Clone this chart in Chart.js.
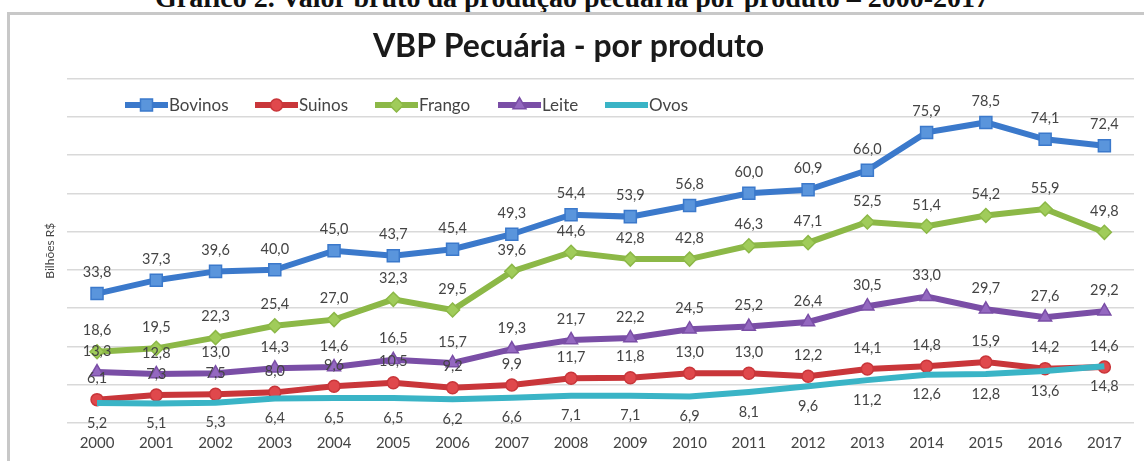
<!DOCTYPE html>
<html><head><meta charset="utf-8">
<script src="https://cdn.jsdelivr.net/npm/chart.js@4/dist/chart.umd.min.js"></script>
<style>
html,body{margin:0;padding:0;background:#fff;}
#wrap{position:relative;width:1144px;height:461px;overflow:hidden;background:#fff;}
#caption{position:absolute;left:0;width:1144px;top:-16px;text-align:center;font-family:"Liberation Serif",serif;font-weight:bold;font-size:28px;line-height:28px;color:#111;white-space:nowrap;}
#frame{position:absolute;left:7px;top:12px;width:1200px;height:500px;border-left:3px solid #c8c8c8;border-top:3px solid #c8c8c8;}
canvas{position:absolute;left:0;top:0;}
</style></head><body>
<div id="wrap">
<div id="caption">Gráfico 2. Valor bruto da produção pecuária por produto – 2000-2017</div>
<div id="frame"></div>
<canvas id="c" width="1144" height="461"></canvas>
</div>
<script>
const years = ['2000','2001','2002','2003','2004','2005','2006','2007','2008','2009','2010','2011','2012','2013','2014','2015','2016','2017'];
const bovinos = [33.8,37.3,39.6,40.0,45.0,43.7,45.4,49.3,54.4,53.9,56.8,60.0,60.9,66.0,75.9,78.5,74.1,72.4];
const suinos  = [6.1,7.3,7.5,8.0,9.6,10.5,9.2,9.9,11.7,11.8,13.0,13.0,12.2,14.1,14.8,15.9,14.2,14.6];
const frango  = [18.6,19.5,22.3,25.4,27.0,32.3,29.5,39.6,44.6,42.8,42.8,46.3,47.1,52.5,51.4,54.2,55.9,49.8];
const leite   = [13.3,12.8,13.0,14.3,14.6,16.5,15.7,19.3,21.7,22.2,24.5,25.2,26.4,30.5,33.0,29.7,27.6,29.2];
const ovos    = [5.2,5.1,5.3,6.4,6.5,6.5,6.2,6.6,7.1,7.1,6.9,8.1,9.6,11.2,12.6,12.8,13.6,14.8];
const seriesNames = ['Bovinos','Suinos','Frango','Leite','Ovos'];
const yTicks = [0,10,20,30,40,50,60,70,80,90];
const chartTitle = 'VBP Pecuária - por produto';
const yAxisTitle = 'Bilhões R$';

const colors = ['#3b79cb','#c9363a','#8cb847','#7a4ea6','#3ab4c6'];
const fills  = ['#5a95dc','#e0484c','#a0cc5a','#9468c0','#3ab4c6'];
const styles = ['rect','circle','rectRot','triangle',false];
const radii  = [8.5,6,7,7.5,0];
const labelPos = ['above','above','above','above','below'];
const values = [bovinos,suinos,frango,leite,ovos];

const FONT = 'Lato, "Open Sans", sans-serif';
const TXT = '#444444';

const dataLabels = {
  id:'dataLabels',
  afterDatasetsDraw(chart){
    const ctx = chart.ctx;
    ctx.save();
    ctx.font = '14.5px ' + FONT;
    ctx.fillStyle = TXT;
    ctx.textAlign = 'center';
    ctx.textBaseline = 'middle';
    chart.data.datasets.forEach((ds,i)=>{
      const meta = chart.getDatasetMeta(i);
      meta.data.forEach((pt,j)=>{
        const v = ds.data[j];
        const dy = labelPos[i]==='above' ? -21 : 20;
        ctx.fillText(v.toFixed(1).replace('.',','), pt.x, pt.y + dy);
      });
    });
    ctx.restore();
  }
};

const insideLegend = {
  id:'insideLegend',
  afterDraw(chart, args, opts){
    const ctx = chart.ctx;
    ctx.save();
    ctx.font = '17px ' + FONT;
    ctx.textBaseline = 'middle';
    ctx.textAlign = 'left';
    const y = opts.y;
    chart.data.datasets.forEach((ds,i)=>{
      const x = opts.xs[i];
      ctx.strokeStyle = ds.borderColor;
      ctx.lineWidth = 6;
      ctx.lineCap = 'butt';
      ctx.beginPath(); ctx.moveTo(x, y); ctx.lineTo(x+43, y); ctx.stroke();
      if (ds.pointStyle) {
        ctx.fillStyle = ds.pointBackgroundColor;
        ctx.strokeStyle = ds.pointBorderColor;
        ctx.lineWidth = 1.5;
        Chart.helpers.drawPoint(ctx, {pointStyle: ds.pointStyle, radius: ds.pointRadius, borderWidth:1.5, rotation:0}, x+21.5, y);
      }
      ctx.fillStyle = TXT;
      ctx.fillText(ds.label, x+44, y+1);
    });
    ctx.restore();
  }
};

const datasets = seriesNames.map((name,i)=>({
  label:name,
  data:values[i],
  borderColor:colors[i],
  backgroundColor:colors[i],
  borderWidth:6,
  pointStyle:styles[i],
  pointRadius:radii[i],
  pointBackgroundColor:fills[i],
  pointBorderColor:colors[i],
  pointBorderWidth:1.5,
  tension:0,
  order: 5-i
}));

new Chart(document.getElementById('c'), {
  type:'line',
  data:{labels:years, datasets},
  options:{
    responsive:false,
    devicePixelRatio:1,
    animation:false,
    layout:{padding:{left:0,right:7,top:0,bottom:0}},
    plugins:{
      legend:{display:false},
      tooltip:{enabled:false},
      title:{display:true,text:chartTitle,color:'#1a1a1a',font:{family:FONT,size:32,weight:'bold'},padding:{top:27,bottom:13}},
      insideLegend:{y:105, xs:[125,255,375,498,605]}
    },
    scales:{
      x:{
        offset:true,
        grid:{display:false,drawTicks:false},
        border:{display:false},
        ticks:{color:TXT,font:{family:FONT,size:15},padding:11.5,maxRotation:0,autoSkip:false},
        afterFit(scale){ scale.height = 38; }
      },
      y:{
        min:yTicks[0], max:yTicks[yTicks.length-1],
        afterBuildTicks(scale){ scale.ticks = yTicks.map(v=>({value:v})); },
        grid:{color:'#d9d9d9',lineWidth:1.5,drawTicks:false},
        border:{display:false},
        ticks:{display:false},
        title:{display:true,text:yAxisTitle,color:TXT,font:{family:FONT,size:12},padding:{top:43,bottom:10}}
      }
    }
  },
  plugins:[dataLabels, insideLegend]
});
</script>
</body></html>
